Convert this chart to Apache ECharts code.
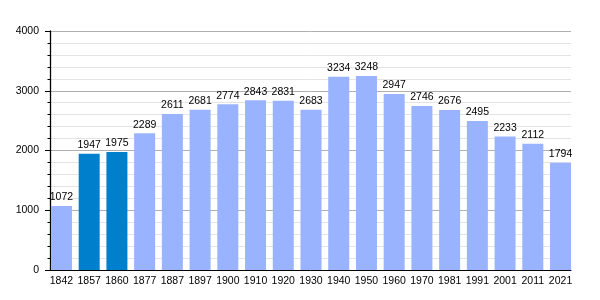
<!DOCTYPE html>
<html><head><meta charset="utf-8">
<script src="https://cdn.jsdelivr.net/npm/echarts@6/dist/echarts.min.js"></script>
<style>html,body{margin:0;padding:0;background:#fff}#c{width:600px;height:300px}</style>
</head><body><div id="c"></div>
<script>
var years = ['1842','1857','1860','1877','1887','1897','1900','1910','1920','1930','1940','1950','1960','1970','1981','1991','2001','2011','2021'];
var population = [1072,1947,1975,2289,2611,2681,2774,2843,2831,2683,3234,3248,2947,2746,2676,2495,2233,2112,1794];
var highlighted = ['1857','1860'];
var yMin = 0, yMax = 4000, yStep = 1000;

var LIGHT = '#99b3ff', DARK = '#0080cc';
var FONT = '"Liberation Sans", Arial, sans-serif';
var FS = 10.5;
var chart = echarts.init(document.getElementById('c'), null, {renderer:'canvas'});
chart.setOption({
  animation:false,
  grid:[
    {left:50,right:29,top:31,bottom:30,containLabel:false},
    {left:47.6,right:25.6,top:31,bottom:30,containLabel:false}
  ],
  xAxis:[
    {gridIndex:0,type:'category',data:years,
      axisLine:{lineStyle:{color:'#000',width:1}},
      axisTick:{show:false},axisLabel:{show:false},splitLine:{show:false}},
    {gridIndex:1,type:'category',data:years,
      axisLine:{show:false},axisTick:{show:false},splitLine:{show:false},
      axisLabel:{color:'#000',fontSize:FS,fontFamily:FONT,margin:6,interval:0}}
  ],
  yAxis:[
    {gridIndex:0,type:'value',min:yMin,max:yMax,interval:yStep,
      axisLine:{show:true,lineStyle:{color:'#000',width:1.3}},
      axisTick:{show:true,length:5,lineStyle:{color:'#000'}},
      minorTick:{show:true,splitNumber:5,length:2.5,lineStyle:{color:'#000'}},
      splitLine:{lineStyle:{color:'#b0b0b0'}},
      minorSplitLine:{show:true,lineStyle:{color:'#e4e4e4'}},
      axisLabel:{color:'#000',fontSize:FS,fontFamily:FONT,margin:11,formatter:function(v){return String(v);}}},
    {gridIndex:1,type:'value',min:yMin,max:yMax,interval:yStep,show:false,splitLine:{show:false}}
  ],
  series:[{type:'bar',xAxisIndex:1,yAxisIndex:1,barWidth:21,z:3,
    data:population.map(function(v,i){return {value:v,itemStyle:{color:highlighted.indexOf(years[i])>=0?DARK:LIGHT}};}),
    label:{show:true,position:'top',distance:3,color:'#000',fontSize:FS,fontFamily:FONT}}]
});
</script></body></html>
